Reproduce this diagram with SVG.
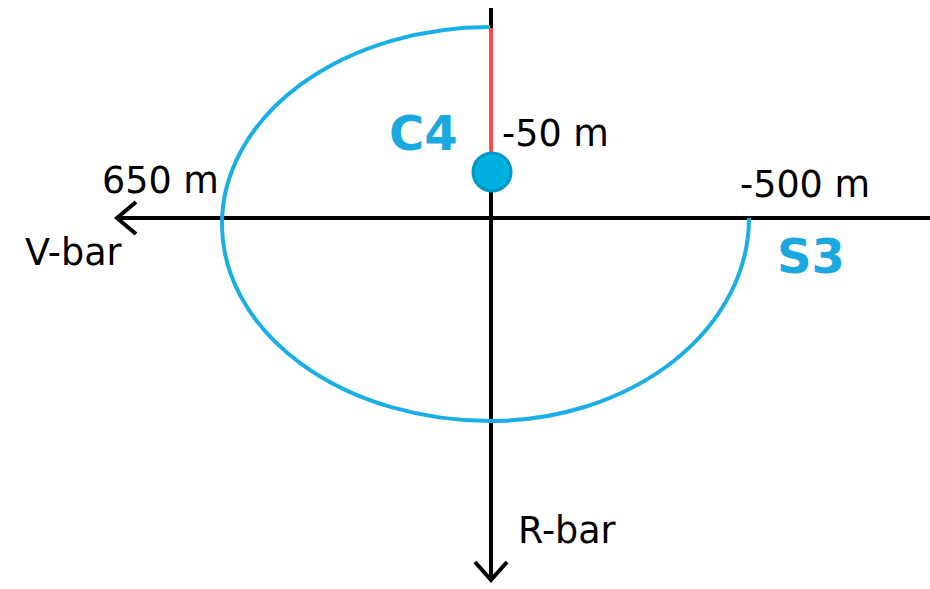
<svg xmlns="http://www.w3.org/2000/svg" width="930" height="589" viewBox="0 0 930 589">
<style>
.t{font-family:"DejaVu Sans","Liberation Sans",sans-serif;font-size:36.5px;fill:#000}
.b{font-family:"DejaVu Sans","Liberation Sans",sans-serif;font-size:48px;font-weight:bold;fill:#1aa8e0}
.ax{stroke:#000;stroke-width:4;fill:none}
</style>
<rect width="930" height="589" fill="#fff"/>
<g id="connectors">
<path class="ax" d="M930 218 H116"/>
<path class="ax" d="M136 202 L117 218 L136 234"/>
<path class="ax" d="M491 8 V581"/>
<path class="ax" d="M475 562 L491 580 L507 562"/>
<path d="M491 28 V155" stroke="#ff4a4a" stroke-width="4"/>
<path id="orbit" d="M490 27 A 268 197 0 0 0 490 421 A 259 203 0 0 0 749 218" fill="none" stroke="#1aaee6" stroke-width="4"/>
</g>
<g id="C4">
<circle cx="492" cy="172" r="19" fill="#00b0e0" stroke="#0097c4" stroke-width="3"/>
<text class="b" x="389" y="150">C4</text>
<text class="t" x="502" y="146">-50 m</text>
</g>
<g id="S3">
<text class="b" x="777" y="273">S3</text>
<text class="t" x="740" y="197">-500 m</text>
</g>
<g id="labels">
<text class="t" x="102" y="193">650 m</text>
<text class="t" x="25" y="265">V-bar</text>
<text class="t" x="518" y="543">R-bar</text>
</g>
</svg>
